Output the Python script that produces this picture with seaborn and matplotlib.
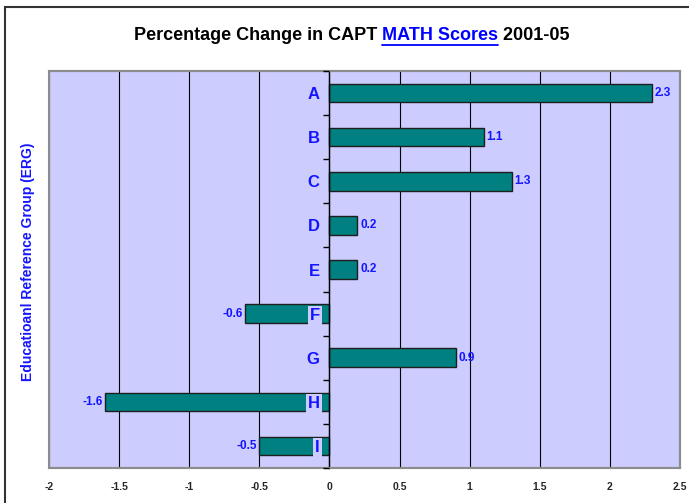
import matplotlib
matplotlib.use('Agg')
import matplotlib.pyplot as plt
import seaborn as sns
import pandas as pd
from matplotlib.patches import Rectangle
from matplotlib.lines import Line2D

# chart data
groups = ['A', 'B', 'C', 'D', 'E', 'F', 'G', 'H', 'I']
pct_change = [2.3, 1.1, 1.3, 0.2, 0.2, -0.6, 0.9, -1.6, -0.5]
x_ticks = [-2, -1.5, -1, -0.5, 0, 0.5, 1, 1.5, 2, 2.5]
x_tick_labels = ['-2', '-1.5', '-1', '-0.5', '0', '0.5', '1', '1.5', '2', '2.5']

BLUE = '#1414ff'
LAVENDER = '#ccccff'

sns.set_style('white')
plt.rcParams['font.family'] = ['Liberation Sans', 'DejaVu Sans']

W, H = 689, 503
fig = plt.figure(figsize=(W / 100, H / 100), dpi=100)
ax = fig.add_axes([49 / W, 35 / H, 631 / W, 397 / H])
ax.set_facecolor(LAVENDER)

df = pd.DataFrame({'ERG': groups, 'change': pct_change})
sns.barplot(data=df, x='change', y='ERG', orient='h', color='#008080',
            saturation=1, width=0.42, edgecolor='#1e1e1e', linewidth=1,
            ax=ax, zorder=2)

ax.set_xlim(-2, 2.5)
ax.set_ylim(8.5, -0.5)

# vertical grid behind the bars
ax.set_xticks(x_ticks)
ax.set_xticklabels(x_tick_labels)
ax.xaxis.grid(True, color='black', lw=0.8)
ax.yaxis.grid(False)
ax.set_axisbelow(True)
ax.tick_params(axis='x', length=0, pad=10, labelsize=7.5)
for t in ax.get_xticklabels():
    t.set_fontweight('bold')

# category axis sits on zero, its labels drawn over the bars
ax.yaxis.set_zorder(4)
ax.spines['left'].set_position(('data', 0))
ax.spines['left'].set_color('black')
ax.spines['left'].set_linewidth(1)
ax.spines['left'].set_zorder(3)
for s in ['top', 'right', 'bottom']:
    ax.spines[s].set_color('#8c8c8c')
    ax.spines[s].set_linewidth(1.5)
ax.add_patch(Rectangle((0, 0), 1, 1, transform=ax.transAxes, fill=False,
                       edgecolor='#8c8c8c', lw=1.5, clip_on=False, zorder=4))

ax.set_yticks(range(len(groups)))
ax.set_yticklabels(groups)
ax.set_yticks([i + 0.5 for i in range(-1, len(groups))], minor=True)
ax.tick_params(axis='y', which='both', left=True)
ax.tick_params(axis='y', which='major', length=0, pad=7, labelsize=12,
               labelcolor=BLUE)
ax.tick_params(axis='y', which='minor', length=4, width=1, color='black',
               direction='out')
for t in ax.get_yticklabels():
    t.set_fontweight('bold')
    t.set_bbox(dict(facecolor=LAVENDER, edgecolor='none', pad=1.5))
ax.set_xlabel('')
ax.set_ylabel('')

# value labels
for i, v in enumerate(pct_change):
    ax.text(v + (0.02 if v > 0 else -0.02), i, f'{v:g}',
            ha='left' if v > 0 else 'right', va='center',
            color=BLUE, fontsize=8.5, fontweight='bold', zorder=5)

# y label
fig.text(28 / W, 1 - 262 / H, 'Educatioanl Reference Group (ERG)',
         rotation=90, ha='center', va='center', color=BLUE,
         fontsize=10, fontweight='bold')

# title in three pieces, middle one blue and underlined
parts = [('Percentage Change in CAPT ', 'black'), ('MATH Scores', '#0000ff'),
         (' 2001-05', 'black')]
renderer = fig.canvas.get_renderer()
texts = []
for s, c in parts:
    t = fig.text(0, 1 - 35 / H, s, ha='left', va='center', color=c,
                 fontsize=13, fontweight='bold')
    texts.append(t)
widths = [t.get_window_extent(renderer).width for t in texts]
x0 = 352 - sum(widths) / 2
for t, w in zip(texts, widths):
    t.set_x(x0 / W)
    if t.get_color() == '#0000ff':
        bb = t.get_window_extent(renderer)
        fig.add_artist(Line2D([bb.x0 / W, bb.x1 / W],
                              [(bb.y0 - 1) / H, (bb.y0 - 1) / H],
                              color='#0000ff', lw=1.3))
    x0 += w

# outer chart border (cut off at right and bottom)
fig.add_artist(Rectangle((5 / W, -0.1), 1.2, 1.1 - 7 / H,
                         transform=fig.transFigure, fill=False,
                         edgecolor='#333333', lw=1.5))

fig.savefig('out.png', dpi=100)
